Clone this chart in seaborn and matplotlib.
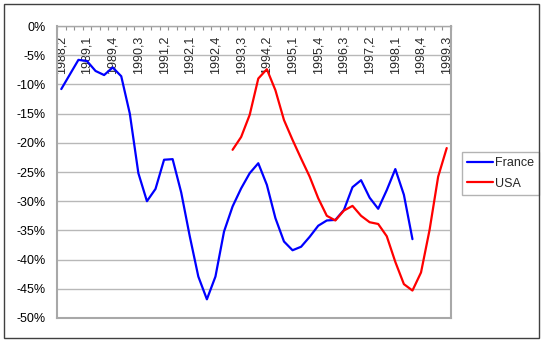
import numpy as np
import pandas as pd
import matplotlib
matplotlib.use("Agg")
import matplotlib.pyplot as plt
from matplotlib.patches import Rectangle
from matplotlib.ticker import FuncFormatter
import seaborn as sns

# Quarterly categories, 1988 Q2 through 1999 Q3
quarters = [
    "1988,2", "1988,3", "1988,4",
    "1989,1", "1989,2", "1989,3", "1989,4",
    "1990,1", "1990,2", "1990,3", "1990,4",
    "1991,1", "1991,2", "1991,3", "1991,4",
    "1992,1", "1992,2", "1992,3", "1992,4",
    "1993,1", "1993,2", "1993,3", "1993,4",
    "1994,1", "1994,2", "1994,3", "1994,4",
    "1995,1", "1995,2", "1995,3", "1995,4",
    "1996,1", "1996,2", "1996,3", "1996,4",
    "1997,1", "1997,2", "1997,3", "1997,4",
    "1998,1", "1998,2", "1998,3", "1998,4",
    "1999,1", "1999,2", "1999,3",
]

# France: 1988,2 .. 1998,3 (percent)
france = [
    -10.8, -8.3, -5.8, -6.0, -7.7, -8.4, -7.1, -8.6, -15.0, -25.2,
    -30.0, -27.9, -22.9, -22.8, -28.5, -36.0, -42.9, -46.8, -42.9, -35.2,
    -30.9, -27.8, -25.2, -23.5, -27.2, -32.9, -36.9, -38.4, -37.8, -36.1,
    -34.2, -33.3, -33.2, -31.5, -27.6, -26.4, -29.4, -31.3, -28.1, -24.5,
    -28.9, -36.5,
]
france_start = "1988,2"

# USA: 1993,2 .. 1999,3 (percent)
usa = [
    -21.2, -19.0, -15.2, -9.0, -7.4, -11.0, -16.1, -19.5, -22.7, -25.8,
    -29.5, -32.5, -33.3, -31.6, -30.8, -32.5, -33.6, -33.9, -36.0, -40.4,
    -44.2, -45.3, -42.2, -34.9, -25.8, -20.9,
]
usa_start = "1993,2"

series = {"France": (france_start, france), "USA": (usa_start, usa)}
colors = {"France": "#0000ff", "USA": "#ff0000"}

rows = []
for name, (start, vals) in series.items():
    i0 = quarters.index(start)
    for k, v in enumerate(vals):
        rows.append({"pos": i0 + k, "value": v / 100.0, "country": name})
df = pd.DataFrame(rows)

sns.set_style("white")
plt.rcParams["font.family"] = ["Liberation Sans", "DejaVu Sans"]

W, H = 548, 345
fig = plt.figure(figsize=(W / 100, H / 100), dpi=100)
fig.patch.set_facecolor("white")
ax = fig.add_axes([57 / W, 1 - 318 / H, (451 - 57) / W, (318 - 26) / H])

sns.lineplot(data=df, x="pos", y="value", hue="country", palette=colors,
             linewidth=1.6, estimator=None, ax=ax)

ax.set_xlim(-0.5, len(quarters) - 0.5)
ax.set_ylim(-0.5, 0.0)
ax.set_xlabel("")
ax.set_ylabel("")

# value axis
ax.set_yticks(np.arange(-0.50, 0.001, 0.05))
ax.yaxis.set_major_formatter(FuncFormatter(lambda v, p: f"{int(round(v * 100))}%"))
ax.yaxis.grid(True, color="#b8b8b8", linewidth=1.0)
ax.set_axisbelow(True)
ax.tick_params(axis="y", direction="out", length=3, color="#a0a0a0",
               labelsize=9, labelcolor="black", pad=5)

# category axis sits on the 0% line at the top
label_pos = list(range(0, len(quarters), 3))
ax.set_xticks(label_pos)
ax.set_xticklabels([quarters[i] for i in label_pos])
ax.set_xticks(np.arange(-0.5, len(quarters), 1.0), minor=True)
ax.tick_params(axis="x", which="major", top=True, bottom=False,
               labeltop=True, labelbottom=False, length=0,
               labelrotation=90, labelsize=9, pad=-7)
ax.tick_params(axis="x", which="minor", top=True, bottom=False,
               direction="in", length=3, color="#909090", width=0.8)
plt.setp(ax.get_xticklabels(), va="top", ha="center")

for side, lw in (("top", 1.0), ("left", 1.5), ("bottom", 1.5), ("right", 1.5)):
    ax.spines[side].set_visible(True)
    ax.spines[side].set_color("#a8a8a8")
    ax.spines[side].set_linewidth(lw)

handles, labels = ax.get_legend_handles_labels()
ax.get_legend().remove()
leg = ax.legend(handles, labels, loc="upper left",
                bbox_to_anchor=(462 / W, 1 - 152 / H),
                bbox_transform=fig.transFigure, frameon=True, fancybox=False,
                edgecolor="#a0a0a0", fontsize=9, handlelength=2.1,
                handletextpad=0.15, borderaxespad=0, borderpad=0.4,
                labelspacing=0.7)
leg.get_frame().set_linewidth(1.0)
for line in leg.get_lines():
    line.set_linewidth(1.6)

# chart frame
fig.add_artist(Rectangle((4 / W, 1 - 338 / H), 535 / W, 334 / H,
                         transform=fig.transFigure, fill=False,
                         edgecolor="#404040", linewidth=1.0))

fig.savefig("out.png", dpi=100)
